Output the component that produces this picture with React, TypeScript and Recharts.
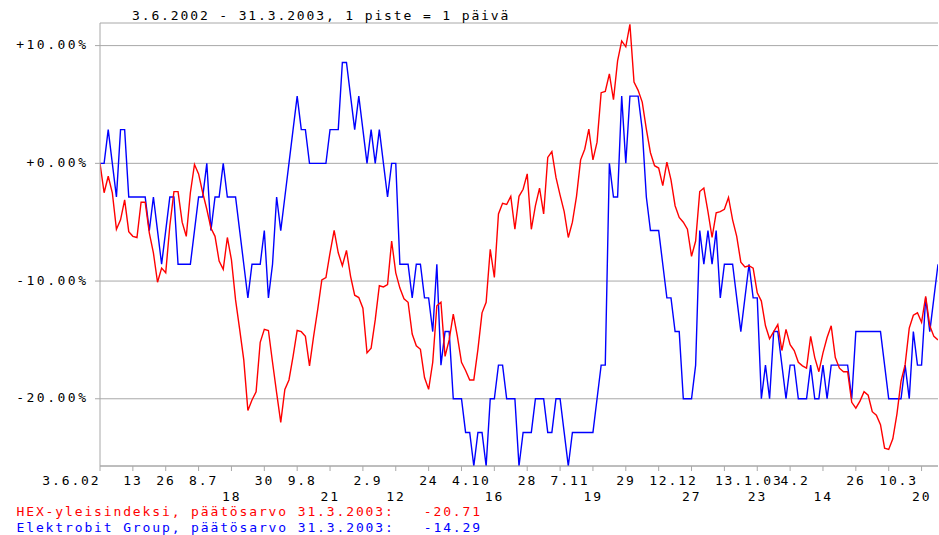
import React from "react";
import { LineChart, Line, XAxis, YAxis, CartesianGrid } from "recharts";

// HEX general index, % change from 3.6.2002, one point per trading day
const hexValues: number[] = [
  0, -2.5, -1.1, -2.5, -5.6, -4.8, -3.1, -5.8, -6.2, -6.3,
  -3.3, -3.3, -5.9, -7.6, -10.1, -8.9, -9.3, -5.3, -2.4, -2.4,
  -5.0, -6.2, -2.5, -0.1, -0.9, -2.5, -3.9, -5.5, -6.2, -8.3,
  -9.0, -6.3, -8.2, -11.6, -14.1, -16.7, -21.0, -20.1, -19.4, -15.2,
  -14.1, -14.2, -16.9, -19.5, -22.0, -19.2, -18.4, -16.4, -14.2, -14.3,
  -14.7, -17.2, -14.7, -12.4, -9.9, -9.7, -7.6, -5.7, -7.6, -8.7,
  -7.4, -9.6, -11.2, -11.4, -12.3, -16.1, -15.7, -13.3, -10.4, -10.5,
  -10.3, -6.6, -9.3, -10.6, -11.5, -11.8, -14.5, -15.5, -15.8, -18.2,
  -19.2, -16.9, -12.1, -11.8, -16.4, -15.0, -12.8, -14.7, -16.9, -17.6,
  -18.4, -18.4, -15.8, -12.7, -11.8, -7.3, -9.7, -4.3, -3.4, -3.5,
  -2.8, -5.6, -2.8, -2.2, -0.9, -5.6, -3.6, -2.1, -4.3, 0.5,
  1.0, -1.2, -2.7, -4.1, -6.3, -5.0, -2.8, 0.3, 1.2, 2.9,
  0.3, 1.8, 6.0, 6.1, 7.6, 5.4, 8.7, 10.4, 9.9, 11.8,
  6.9, 6.2, 5.2, 2.9, 0.9, -0.2, -0.4, -1.9, 0.1, -1.4,
  -3.6, -4.6, -5.0, -5.6, -7.9, -6.6, -2.4, -2.1, -4.1, -6.3,
  -4.2, -4.1, -3.9, -2.9, -4.8, -6.2, -8.4, -8.8, -8.7, -8.9,
  -11.0, -11.7, -13.8, -14.9, -14.3, -13.7, -15.9, -14.1, -15.4, -15.9,
  -16.9, -17.2, -17.4, -14.7, -16.5, -17.7, -16.1, -14.8, -13.8, -16.5,
  -17.4, -17.7, -17.7, -20.3, -20.8, -20.2, -19.4, -19.7, -21.1, -21.4,
  -22.2, -24.2, -24.3, -23.4, -21.3, -18.5, -17.1, -14.0, -12.9, -12.7,
  -13.5, -11.3, -13.8, -14.7, -15.0,
];

// Elektrobit Group, % change from 3.6.2002
const ebgValues: number[] = [
  0, 0, 2.86, 0, -2.86, 2.86, 2.86, -2.86, -2.86, -2.86,
  -2.86, -2.86, -5.71, -2.86, -5.71, -8.57, -5.71, -2.86, -2.86, -8.57,
  -8.57, -8.57, -8.57, -5.71, -2.86, -2.86, 0, -5.71, -2.86, -2.86,
  0, -2.86, -2.86, -2.86, -5.71, -8.57, -11.43, -8.57, -8.57, -8.57,
  -5.71, -11.43, -8.57, -2.86, -5.71, -2.86, 0, 2.86, 5.71, 2.86,
  2.86, 0, 0, 0, 0, 0, 2.86, 2.86, 2.86, 8.57,
  8.57, 5.71, 2.86, 5.71, 2.86, 0, 2.86, 0, 2.86, 0,
  -2.86, 0, 0, -8.57, -8.57, -8.57, -11.43, -8.57, -8.57, -11.43,
  -11.43, -14.29, -8.57, -17.14, -14.29, -14.29, -20, -20, -20, -22.86,
  -22.86, -25.71, -22.86, -22.86, -25.71, -20, -20, -17.14, -17.14, -20,
  -20, -20, -25.71, -22.86, -22.86, -22.86, -20, -20, -20, -22.86,
  -22.86, -20, -20, -22.86, -25.71, -22.86, -22.86, -22.86, -22.86, -22.86,
  -22.86, -20, -17.14, -17.14, 0, -2.86, -2.86, 5.71, 0, 5.71,
  5.71, 5.71, 2.86, -2.86, -5.71, -5.71, -5.71, -8.57, -11.43, -11.43,
  -14.29, -14.29, -20, -20, -20, -17.14, -5.71, -8.57, -5.71, -8.57,
  -5.71, -11.43, -8.57, -8.57, -8.57, -11.43, -14.29, -11.43, -8.57, -11.43,
  -11.43, -20, -17.14, -20, -14.29, -14.29, -17.14, -20, -17.14, -17.14,
  -20, -20, -20, -17.14, -20, -20, -17.14, -20, -17.14, -17.14,
  -17.14, -17.14, -17.14, -20, -14.29, -14.29, -14.29, -14.29, -14.29, -14.29,
  -14.29, -17.14, -20, -20, -20, -20, -17.14, -20, -14.29, -17.14,
  -17.14, -11.43, -14.29, -11.43, -8.57,
];

// x-axis tick labels, one every 8 trading days
const tickLabels: string[] = [
  "3.6.02", "13", "26", "8.7", "18", "30", "9.8", "21", "2.9", "12",
  "24", "4.10", "16", "28", "7.11", "19", "29", "12.12", "27", "13.1.03",
  "23", "4.2", "14", "26", "10.3", "20",
];
const tickRows: number[] = [
  0, 0, 0, 0, 1, 0, 0, 1, 0, 1,
  0, 0, 1, 0, 0, 1, 0, 0, 1, 0,
  1, 0, 1, 0, 0, 1,
];
const tickStep = 8;

const yTicks: number[] = [-20, -10, 0, 10];
const yTickLabels: string[] = ["-20.00%", "-10.00%", "+0.00%", "+10.00%"];

const titleText = "3.6.2002 - 31.3.2003, 1 piste = 1 päivä";
const legendHex = "HEX-yleisindeksi, päätösarvo 31.3.2003:   -20.71";
const legendEbg = "Elektrobit Group, päätösarvo 31.3.2003:   -14.29";

const data = hexValues.map((v, i) => ({ i, hex: v, ebg: ebgValues[i] }));
const xTicks = tickLabels.map((_, k) => k * tickStep);

const FONT = "'DejaVu Sans Mono', monospace";
const GRID = "#a8a8a8";
const PITCH = 9.7;

const XTick = (props: any) => {
  const { x, y, payload } = props;
  const k = Math.round(payload.value / tickStep);
  const label = tickLabels[k] ?? "";
  const row = tickRows[k] ?? 0;
  const startX = k === 0 ? x - label.length * PITCH + 0.5 : x - 9.5;
  const baseY = row === 0 ? 485 : 500.5;
  return (
    <text
      x={startX}
      y={baseY}
      fontFamily={FONT}
      fontSize={13}
      letterSpacing={1.87}
      fill="#000"
      textAnchor="start"
    >
      {label}
    </text>
  );
};

const YTick = (props: any) => {
  const { y, payload } = props;
  const idx = yTicks.indexOf(payload.value);
  const label = yTickLabels[idx] ?? "";
  const pitch = 10.3;
  const startX = 85 - ((label.length - 1) * pitch + 7);
  return (
    <text
      x={startX}
      y={y + 3.5}
      fontFamily={FONT}
      fontSize={13}
      letterSpacing={2.5}
      fill="#000"
      textAnchor="start"
    >
      {label}
    </text>
  );
};

export default function App() {
  return (
    <div style={{ position: "absolute", left: 0, top: 0, width: 939, height: 535, background: "#fff" }}>
      <LineChart
        width={939}
        height={535}
        data={data}
        margin={{ top: 23, right: 1, bottom: 0, left: 0 }}
      >
        <CartesianGrid vertical={false} stroke={GRID} strokeWidth={1} />
        <XAxis
          dataKey="i"
          type="number"
          domain={[0, 204]}
          ticks={xTicks}
          interval={0}
          height={69}
          tickSize={5}
          tickLine={{ stroke: GRID }}
          axisLine={{ stroke: GRID }}
          tick={<XTick />}
          allowDataOverflow
        />
        <YAxis
          type="number"
          domain={[-25.71, 11.92]}
          ticks={yTicks}
          width={100}
          tickSize={5}
          tickLine={{ stroke: GRID }}
          axisLine={{ stroke: GRID }}
          tick={<YTick />}
          allowDataOverflow
        />
        <Line
          type="linear"
          dataKey="ebg"
          stroke="#0000ff"
          strokeWidth={1.4}
          dot={false}
          activeDot={false}
          isAnimationActive={false}
        />
        <Line
          type="linear"
          dataKey="hex"
          stroke="#ff0000"
          strokeWidth={1.4}
          dot={false}
          activeDot={false}
          isAnimationActive={false}
        />
      </LineChart>
      <svg
        width={939}
        height={535}
        style={{ position: "absolute", left: 0, top: 0, pointerEvents: "none" }}
      >
        <text x={132} y={20} fontFamily={FONT} fontSize={13} letterSpacing={1.87} fill="#000" style={{ whiteSpace: "pre" }}>
          {titleText}
        </text>
        <text x={16.5} y={516} fontFamily={FONT} fontSize={13} letterSpacing={1.87} fill="#ff0000" style={{ whiteSpace: "pre" }}>
          {legendHex}
        </text>
        <text x={16.5} y={532} fontFamily={FONT} fontSize={13} letterSpacing={1.87} fill="#0000ff" style={{ whiteSpace: "pre" }}>
          {legendEbg}
        </text>
      </svg>
    </div>
  );
}
